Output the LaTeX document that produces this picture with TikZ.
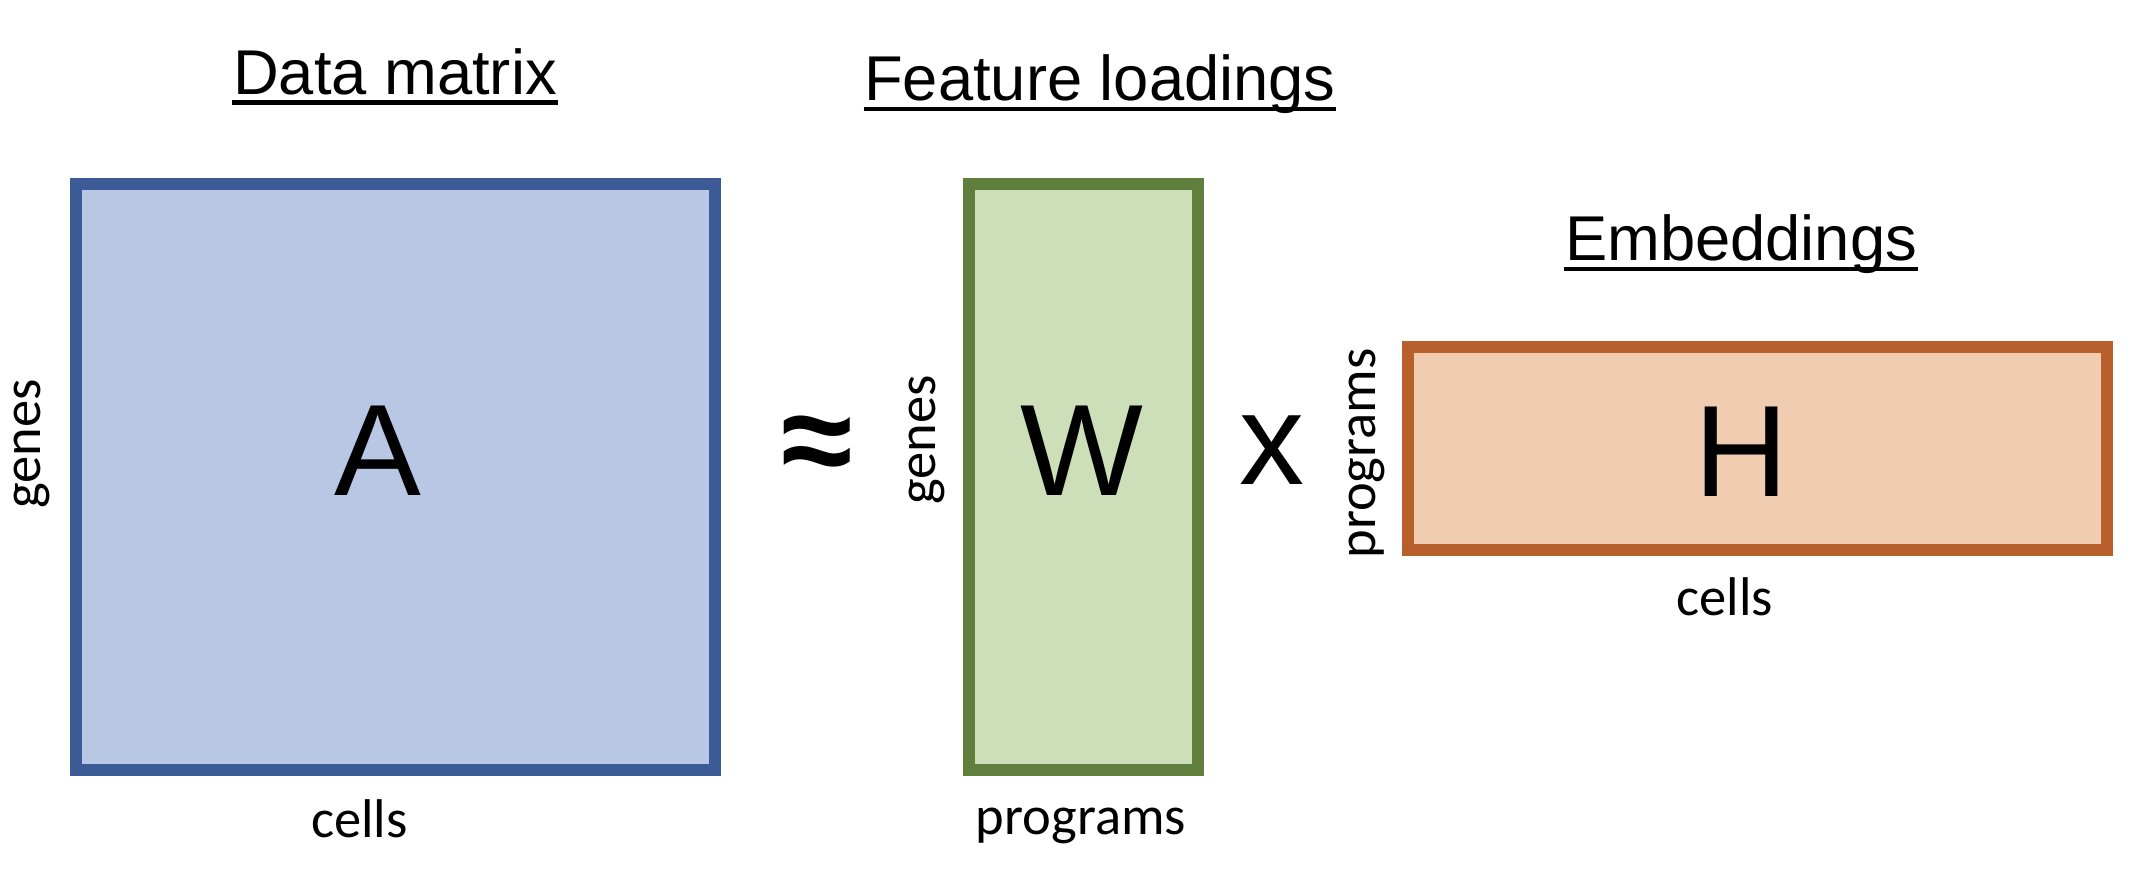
\documentclass[tikz,border=0pt]{standalone}
\usepackage{fontspec}
\setmainfont{Liberation Sans}
\newfontfamily\calibri{Carlito}
\usepackage{tikz}
\usetikzlibrary{positioning,calc}

\definecolor{Afill}{HTML}{B8C7E4}
\definecolor{Adraw}{HTML}{3C5A96}
\definecolor{Wfill}{HTML}{CCDFB9}
\definecolor{Wdraw}{HTML}{607F3D}
\definecolor{Hfill}{HTML}{F0CDB1}
\definecolor{Hdraw}{HTML}{B8602C}

% styles for the matrices and their labels
\tikzset{
  MatStyle/.style={rectangle, line width=3.4pt, inner sep=0pt},
  BigLetter/.style={font=\fontsize{37}{40}\selectfont, inner sep=0pt, anchor=base},
  Title/.style={font=\fontsize{18}{20}\selectfont, inner sep=0pt, anchor=base},
  DimLabel/.style={font=\calibri\fontsize{15.5}{17}\selectfont, inner sep=0pt},
}

\begin{document}
\begin{tikzpicture}[x=0.01cm,y=-0.01cm]
      % the page keeps the size of the original picture
      \useasboundingbox (0,0) rectangle (2132,870);
      % the three matrices
      \node[MatStyle, draw=Adraw, fill=Afill, minimum width=6.39cm, minimum height=5.86cm] (boxA) at (395.5,477) {};
      \node[MatStyle, draw=Wdraw, fill=Wfill, minimum width=2.29cm, minimum height=5.86cm] (boxW) at (1083.3,477) {};
      \node[MatStyle, draw=Hdraw, fill=Hfill, minimum width=6.99cm, minimum height=2.03cm] (boxH) at (1757.5,448.3) {};
      % letters inside
      \node[BigLetter] (A) at (378,495.6) {A};
      \node[BigLetter] (W) at (1082,495.6) {W};
      \node[BigLetter] (H) at (1741,496) {H};
      % the operators
      \node[font=\fontsize{37}{40}\selectfont\bfseries, inner sep=0pt] (approx) at (817,450) {≈};
      \node[BigLetter] (times) at (1271.6,484.4) {x};
      % titles, underlined by hand
      \node[Title] (tA) at (395,94.4) {Data matrix};
      \node[Title] (tW) at (1100,101) {Feature loadings};
      \node[Title] (tH) at (1741,261) {Embeddings};
      \foreach \t in {tA,tW,tH}
        \draw[line width=1.4pt] ([yshift=-0.08cm]\t.base west) -- ([yshift=-0.08cm]\t.base east);
      % dimension labels
      \node[DimLabel, rotate=90] (genesA) at (31.5,444) {genes};
      \node[DimLabel, anchor=base] (cellsA) at (359.5,837) {cells};
      \node[DimLabel, rotate=90] (genesW) at (927,440) {genes};
      \node[DimLabel, anchor=base] (progW) at (1081,834) {programs};
      \node[DimLabel, rotate=90] (progH) at (1367,453.5) {programs};
      \node[DimLabel, anchor=base] (cellsH) at (1725,615) {cells};
\end{tikzpicture}
\end{document}
